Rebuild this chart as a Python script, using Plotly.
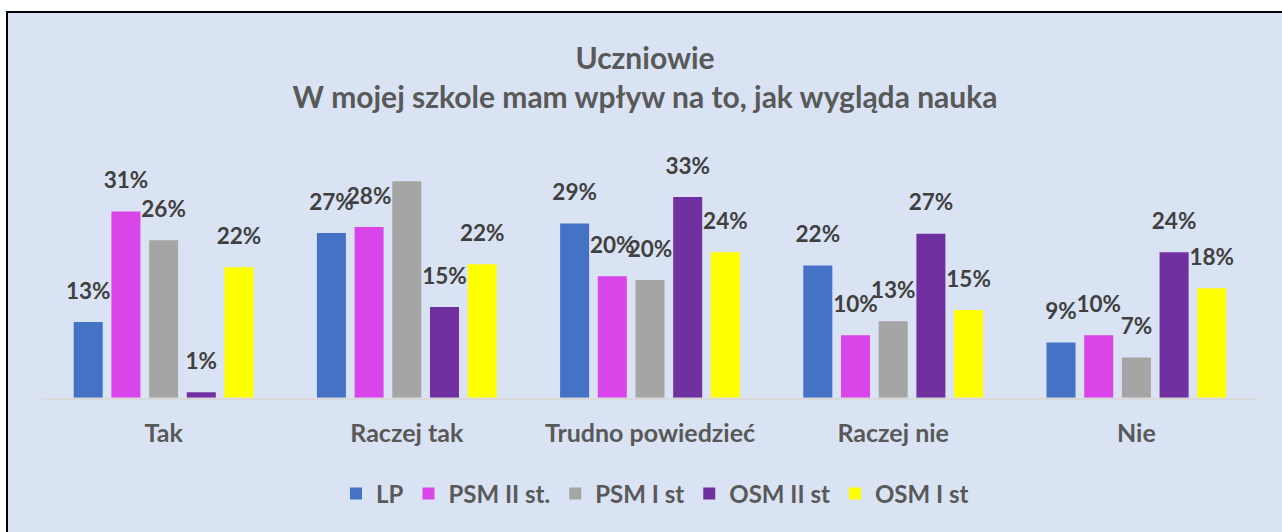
import plotly.graph_objects as go

categories = ["Tak", "Raczej tak", "Trudno powiedzieć", "Raczej nie", "Nie"]
series_names = ["LP", "PSM II st.", "PSM I st", "OSM II st", "OSM I st"]
lp = [0.126, 0.274, 0.290, 0.220, 0.092]
psm_ii = [0.310, 0.284, 0.202, 0.104, 0.104]
psm_i = [0.262, 0.360, 0.196, 0.127, 0.067]
osm_ii = [0.009, 0.151, 0.334, 0.273, 0.242]
osm_i = [0.217, 0.222, 0.242, 0.146, 0.182]
series_values = [lp, psm_ii, psm_i, osm_ii, osm_i]
colors = ["#4472C4", "#DA45EA", "#A5A5A5", "#7030A0", "#FFFF00"]
title_lines = ["Uczniowie", "W mojej szkole mam wpływ na to, jak wygląda nauka"]

W, H = 1282, 532
FONT = "Lato"
LABEL_OFFSET = 0.048  # label centre above bar top, in value units

fig = go.Figure()
for i, (name, vals, col) in enumerate(zip(series_names, series_values, colors)):
    fig.add_trace(go.Bar(
        x=categories, y=vals, name=name, marker=dict(color=col, line=dict(width=0)),
        offsetgroup=str(i), hoverinfo="skip",
    ))
for i, (name, vals) in enumerate(zip(series_names, series_values)):
    fig.add_trace(go.Scatter(
        x=categories, y=[v + LABEL_OFFSET for v in vals], mode="text",
        text=[f"{v:.0%}" for v in vals], textposition="middle center",
        textfont=dict(family=FONT, size=22.5, color="#404040", weight="bold"),
        offsetgroup=str(i), showlegend=False, cliponaxis=False, hoverinfo="skip",
    ))

base_px = 397.7
top_px = 157.3
fig.update_layout(
    width=W, height=H, autosize=False,
    margin=dict(l=0, r=0, t=0, b=0, pad=0),
    paper_bgcolor="white", plot_bgcolor="rgba(0,0,0,0)",
    barmode="group", bargap=0.225, bargroupgap=0.23,
    scattermode="group", scattergap=0.225,
    title=dict(
        text="<br>".join(title_lines), x=645 / W, xanchor="center", xref="paper",
        y=1 - 69 / H, yanchor="middle", yref="paper",
        font=dict(family=FONT, size=30, color="#595959", weight="bold"),
    ),
    xaxis=dict(
        domain=[42 / W, 1258 / W], type="category",
        showline=True, linecolor="#D9D9D9", linewidth=1.5,
        showgrid=False, zeroline=False, ticks="", ticklabelstandoff=13,
        tickfont=dict(family=FONT, size=25, color="#595959", weight="bold"),
    ),
    yaxis=dict(
        domain=[(H - base_px) / H, (H - top_px) / H], range=[0, 0.40],
        visible=False, showgrid=False, zeroline=False,
    ),
    legend=dict(
        orientation="h", x=655 / W, xanchor="center", y=1 - 494 / H, yanchor="middle",
        bgcolor="rgba(0,0,0,0)",
        font=dict(family=FONT, size=24, color="#595959", weight="bold"),
    ),
    showlegend=True,
    shapes=[dict(
        type="rect", xref="paper", yref="paper",
        x0=7 / W, x1=1.02, y0=-0.02, y1=1 - 12 / H,
        fillcolor="#DAE3F3", line=dict(color="black", width=2), layer="below",
    )],
)

fig.write_html(
    "out.html",
    config={"displayModeBar": False},
    post_script="document.body.style.margin='0';",
)
